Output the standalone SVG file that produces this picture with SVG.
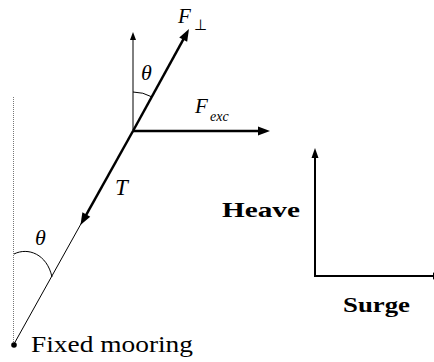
<svg xmlns="http://www.w3.org/2000/svg" width="434" height="362" viewBox="0 0 434 362">
<style>
text{font-family:"Liberation Serif","Times New Roman",serif;fill:#000}
.it{font-style:italic}
.bd{font-weight:bold}
.thick{stroke:#000;stroke-width:2.5;fill:none}
.thin{stroke:#000;stroke-width:1;fill:none}
.axis{stroke:#000;stroke-width:2;fill:none}
</style>
<defs>
<marker id="ahBig" markerUnits="userSpaceOnUse" markerWidth="13" markerHeight="10" refX="6" refY="4.5" orient="auto" overflow="visible">
<path d="M0,0 L12,4.5 L0,9 z" fill="#000"/>
</marker>
<marker id="ahSmall" markerUnits="userSpaceOnUse" markerWidth="9" markerHeight="7" refX="4" refY="3" orient="auto" overflow="visible">
<path d="M0,0 L8,3 L0,6 z" fill="#000"/>
</marker>
<marker id="ahAxis" markerUnits="userSpaceOnUse" markerWidth="11" markerHeight="8" refX="5" refY="3.5" orient="auto" overflow="visible">
<path d="M0,0 L10,3.5 L0,7 z" fill="#000"/>
</marker>
</defs>
<g id="connectors">
<line x1="13.5" y1="97" x2="13.5" y2="345" stroke="#777" stroke-width="1" stroke-dasharray="1,1"/>
<line class="thin" x1="133" y1="131" x2="133" y2="36" marker-end="url(#ahSmall)"/>
<line class="thick" x1="133" y1="131" x2="186.1" y2="34.3" marker-end="url(#ahBig)"/>
<line class="thick" x1="133" y1="131" x2="264" y2="131" marker-end="url(#ahBig)"/>
<line class="thick" x1="133" y1="131" x2="83.4" y2="219.8" marker-end="url(#ahBig)"/>
<line class="thin" x1="82" y1="222" x2="14" y2="344"/>
<path class="thin" d="M133,92 A39,39 0 0 1 151.9,96.9"/>
<path class="thin" d="M14,254 C28,247 47,254 52,277"/>
<line class="axis" x1="315" y1="276" x2="315" y2="153" marker-end="url(#ahAxis)"/>
<line class="axis" x1="314" y1="276" x2="438" y2="276" marker-end="url(#ahAxis)"/>
</g>
<g id="mooring">
<circle cx="14" cy="345" r="2.8" fill="#000"/>
<text x="31" y="352" font-size="23" textLength="162" lengthAdjust="spacingAndGlyphs">Fixed mooring</text>
</g>
<g id="fperp"><text class="it" x="178" y="23" font-size="21">F</text><text x="194" y="30" font-size="15">⊥</text></g>
<g id="fexc"><text class="it" x="195" y="113" font-size="21">F</text><text class="it" x="210" y="121" font-size="14">exc</text></g>
<g id="theta-top"><text class="it" x="141" y="80" font-size="22">θ</text></g>
<g id="tension"><text class="it" x="115" y="195" font-size="23">T</text></g>
<g id="theta-bottom"><text class="it" x="35" y="245" font-size="22">θ</text></g>
<g id="heave"><text class="bd" x="222" y="217" font-size="22" textLength="78" lengthAdjust="spacingAndGlyphs">Heave</text></g>
<g id="surge"><text class="bd" x="343" y="312" font-size="22" textLength="67" lengthAdjust="spacingAndGlyphs">Surge</text></g>
</svg>
